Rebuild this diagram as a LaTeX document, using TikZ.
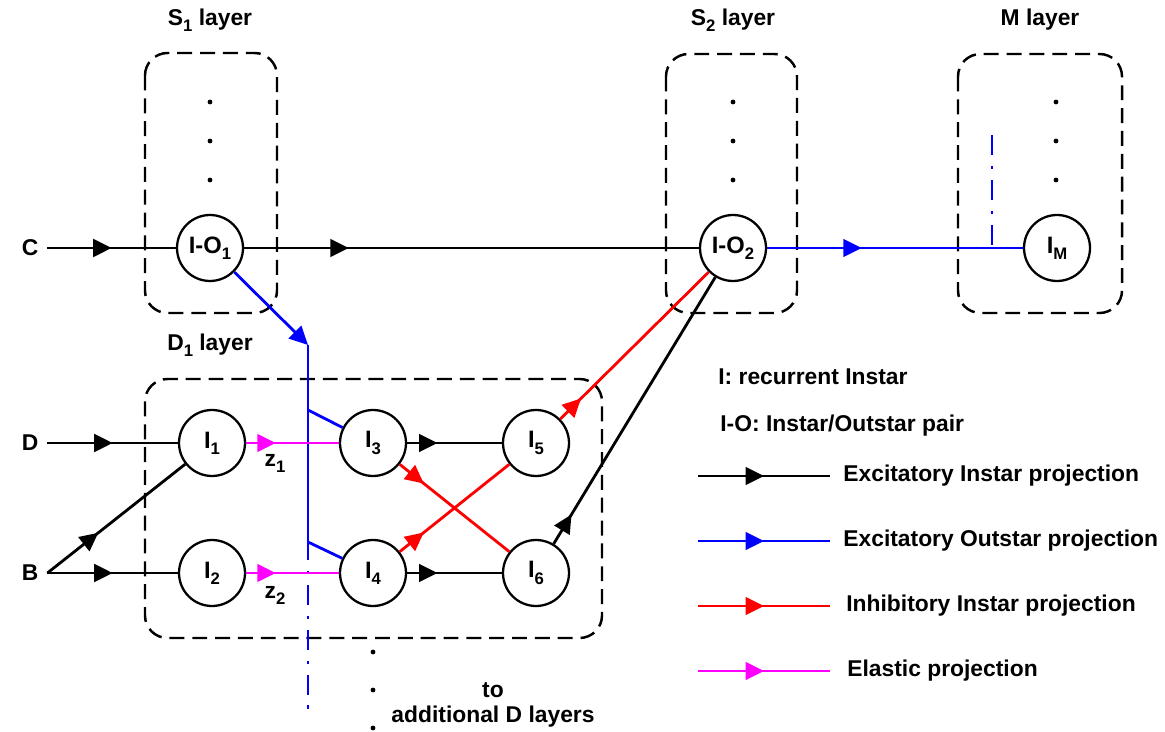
\documentclass[tikz,border=0pt]{standalone}
\usepackage{fontspec}
\setmainfont{Liberation Sans}
\usetikzlibrary{%
  arrows.meta,% Triangle tips
  decorations.markings,% tips part way along a line
  positioning%
}
\definecolor{elasticpink}{RGB}{255,0,255}
\newcommand{\lowsub}[1]{\raisebox{-0.5ex}{\fontsize{9.5}{10}\selectfont #1}}

\begin{document}
\begin{tikzpicture}[x=0.02cm,y=-0.02cm,
	font=\bfseries\fontsize{13}{15}\selectfont,
	neuron/.style={
	circle,
	minimum size=1.32cm,
	inner sep=0pt,
	line width=1.3pt,
	draw=black,
	fill=white,
	font=\bfseries\fontsize{13.5}{15}\selectfont
	},inlabel/.style={
	inner sep=5pt
	},layerbox/.style={
	line width=1.4pt,
	dash pattern=on 8.5pt off 4.5pt,
	rounded corners=0.45cm
	},link/.style={
	line width=1.6pt
	},excit/.style={link,draw=black
	},outstar/.style={link,draw=blue
	},inhib/.style={link,draw=red
	},elastic/.style={link,draw=elasticpink
	},tipat/.style={
	postaction={decorate,decoration={markings,
	mark=at position #1 with {\arrow{Triangle[length=10.5pt,width=10pt]}}}}
	},busdash/.style={
	dash pattern=on 11.4pt off 6pt on 2.2pt off 6pt
	}
]
\useasboundingbox (0,0) rectangle (1165,732);

% layer frames
\draw[layerbox] (145,53) rectangle (277,313);
\draw[layerbox] (666,54) rectangle (797,313);
\draw[layerbox] (958,54) rectangle (1122,313);
\draw[layerbox] (145,379) rectangle (602,638);

\node (s1title) at (210,20) {S\lowsub{1} layer};
\node (s2title) at (733,20) {S\lowsub{2} layer};
\node (mtitle) at (1040,20) {M layer};
\node (d1title) at (210,345) {D\lowsub{1} layer};

% more cells in each layer
\foreach \y in {102,141,180} {
	\fill (210,\y) circle (2.4);
	\fill (733,\y) circle (2.4);
	\fill (1056,\y) circle (2.4);
}
\foreach \y in {652,690,728}
	\fill (373,\y) circle (2.4);

% cells
\node (IO1) [neuron] at (210,248) {I-O\lowsub{1}};
\node (IO2) [neuron] at (733,248) {I-O\lowsub{2}};
\node (IM) [neuron] at (1057,248) {I\lowsub{M}};
\node (I1) [neuron] at (212,443) {I\lowsub{1}};
\node (I2) [neuron] at (212,573) {I\lowsub{2}};
\node (I3) [neuron] at (373,443) {I\lowsub{3}};
\node (I4) [neuron] at (373,573) {I\lowsub{4}};
\node (I5) [neuron] at (536,443) {I\lowsub{5}};
\node (I6) [neuron] at (536,573) {I\lowsub{6}};

% inputs
\node (C) [inlabel] at (30,248) {C};
\node (D) [inlabel] at (30,443) {D};
\node (B) [inlabel] at (30,573) {B};

\coordinate (bustop) at (308,345);
\coordinate (busI3) at (308,410);
\coordinate (busI4) at (308,542);
\coordinate (busend) at (308,560);
\coordinate (busfar) at (308,717);
\coordinate (mtop) at (992,135);
\coordinate (mjoin) at (992,248);

\draw[excit,tipat=0.5] (C) -- (IO1);
\draw[excit,tipat=0.5] (D) -- (I1);
\draw[excit,tipat=0.5] (B) -- (I2);
\draw[excit,tipat=0.37] (B.east) -- (I1);
\draw[excit,tipat=0.23] (IO1) -- (IO2);

% outstar projections
\draw[outstar,-{Triangle[length=10.5pt,width=10pt]}] (IO1) -- (bustop);
\draw[outstar] (bustop) -- (busend);
\draw[outstar,busdash,dash phase=11.4pt] (busend) -- (busfar);
\draw[outstar] (busI3) -- (I3);
\draw[outstar] (busI4) -- (I4);
\draw[outstar,tipat=0.37] (IO2) -- (IM);
\draw[outstar,busdash] (mtop) -- (mjoin);

% D1 layer links
\draw[elastic,tipat=0.32] (I1) -- (I3);
\draw[elastic,tipat=0.32] (I2) -- (I4);
\draw[excit,tipat=0.32] (I3) -- (I5);
\draw[excit,tipat=0.32] (I4) -- (I6);
\draw[inhib,tipat=0.22] (I3) -- (I6);
\draw[inhib,tipat=0.22] (I4) -- (I5);
\draw[inhib,tipat=0.14] (I5) -- (IO2);
\draw[excit,tipat=0.11] (I6) -- (IO2);

\node (zone) at (275,463) {z\lowsub{1}};
\node (ztwo) at (275,595) {z\lowsub{2}};
\node (tonext) at (493,690) {to};
\node (morelayers) at (493,717) {additional D layers};

% legend
\node (keyI) [anchor=west,inner sep=0pt] at (718,377) {I: recurrent Instar};
\node (keyIO) [anchor=west,inner sep=0pt] at (720,426) {I-O: Instar/Outstar pair};
\coordinate (k1a) at (698,476); \coordinate (k1b) at (830,476);
\coordinate (k2a) at (698,541); \coordinate (k2b) at (830,541);
\coordinate (k3a) at (698,606); \coordinate (k3b) at (830,606);
\coordinate (k4a) at (698,671); \coordinate (k4b) at (830,671);
\draw[excit,tipat=0.5] (k1a) -- (k1b);
\draw[outstar,tipat=0.5] (k2a) -- (k2b);
\draw[inhib,tipat=0.5] (k3a) -- (k3b);
\draw[elastic,tipat=0.5] (k4a) -- (k4b);
\node (key1) [anchor=west,inner sep=0pt] at (843,476) {Excitatory Instar projection};
\node (key2) [anchor=west,inner sep=0pt] at (843,541) {Excitatory Outstar projection};
\node (key3) [anchor=west,inner sep=0pt] at (846,606) {Inhibitory Instar projection};
\node (key4) [anchor=west,inner sep=0pt] at (847,671) {Elastic projection};

\end{tikzpicture}
\end{document}
